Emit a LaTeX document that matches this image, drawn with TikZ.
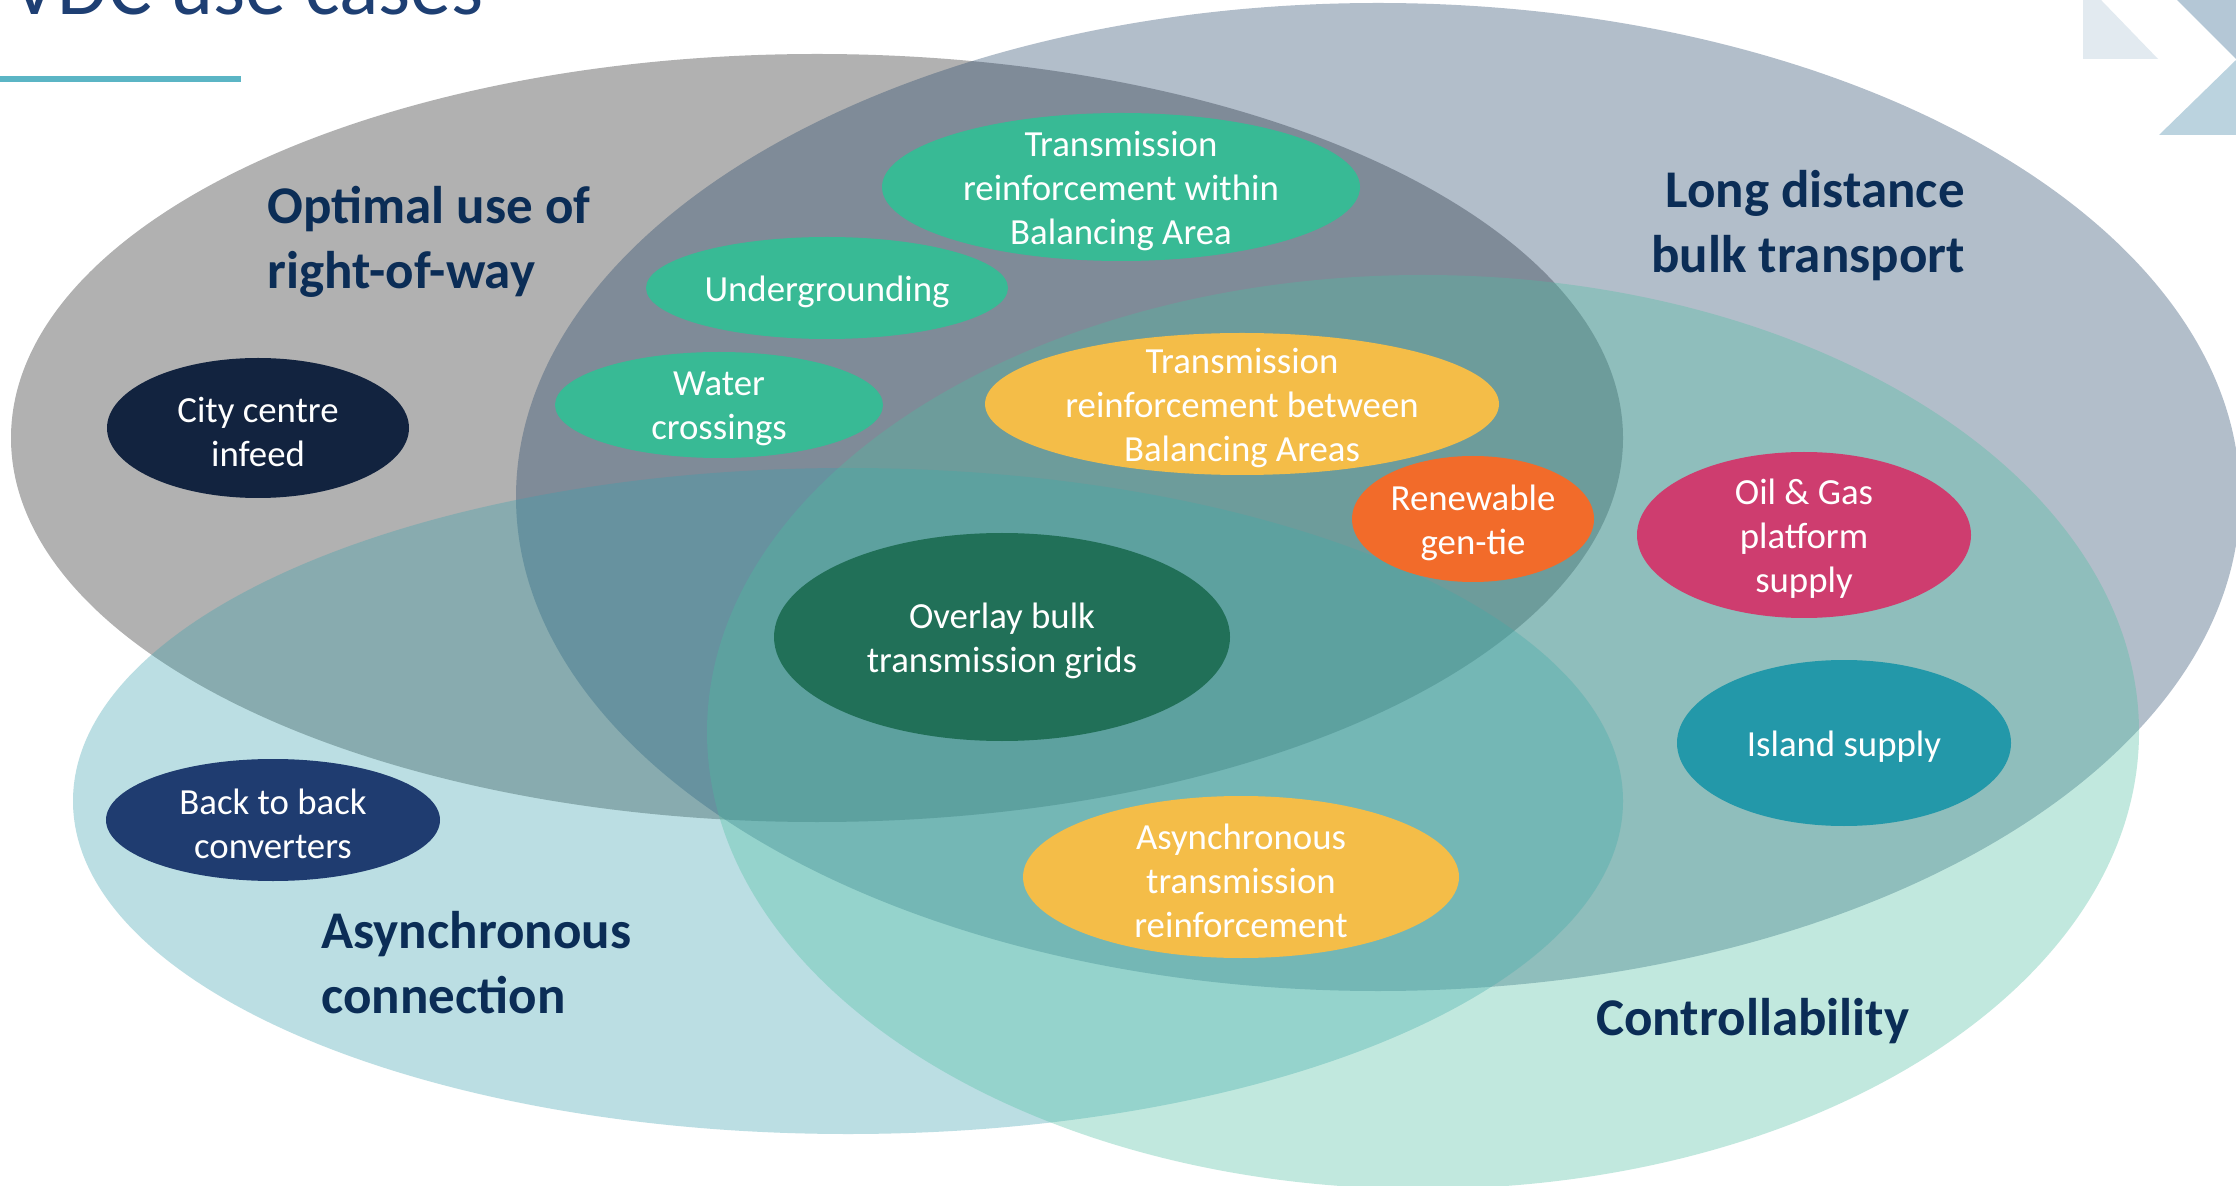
\documentclass[tikz,border=0pt]{standalone}
\usepackage{fontspec}
\setmainfont{Carlito}
\usetikzlibrary{shapes.geometric}
\definecolor{cGrayL}{RGB}{32,32,32}
\definecolor{cBlueL}{RGB}{35,69,106}
\definecolor{cLightL}{RGB}{58,161,173}
\definecolor{cMintL}{RGB}{76,190,161}
\definecolor{cGreen}{RGB}{56,186,149}
\definecolor{cYellow}{RGB}{244,189,72}
\definecolor{cOrange}{RGB}{242,107,42}
\definecolor{cNavyA}{RGB}{18,35,63}
\definecolor{cNavyB}{RGB}{31,60,112}
\definecolor{cPink}{RGB}{206,61,111}
\definecolor{cDkGreen}{RGB}{33,112,88}
\definecolor{cTeal}{RGB}{35,152,169}
\definecolor{cLabel}{RGB}{11,45,86}
\definecolor{cTitle}{RGB}{30,63,115}
\definecolor{cRule}{RGB}{91,181,197}
\definecolor{cDecoA}{RGB}{226,234,240}
\definecolor{cDecoB}{RGB}{180,199,214}
\definecolor{cDecoC}{RGB}{187,211,223}
\tikzset{
  bigset/.style={ellipse, draw=none, inner sep=0pt, fill opacity=0.35},
  usecase/.style={ellipse, draw=none, inner sep=0pt},
  uctext/.style={inner sep=0pt, text=white, align=center, yshift=-2pt,
    font=\fontsize{18.4}{22}\selectfont},
  setlabel/.style={inner sep=0pt, text=cLabel, font=\fontsize{26.5}{32.5}\selectfont\bfseries},
}
\begin{document}
\begin{tikzpicture}[x=0.5pt,y=-0.5pt]
\clip (0,0) rectangle (2236,1186);
\fill[white] (0,0) rectangle (2236,1186);
% title and rule
\node[anchor=base west, inner sep=0pt, text=cTitle, font=\fontsize{41}{48}\selectfont] (title) at (11,15) {VDC use cases};
\fill[cRule] (0,76) rectangle (241,82);
% decoration
\fill[cDecoA] (2083,0) -- (2101,0) -- (2158,59) -- (2083,59) -- cycle;
\fill[cDecoB] (2177,0) -- (2236,0) -- (2236,59) -- cycle;
\fill[cDecoC] (2236,60) -- (2236,135) -- (2159,135) -- cycle;
% big sets
\node[bigset, fill=cGrayL, minimum width=806pt, minimum height=384pt] (setrow) at (817,438) {};
\node[bigset, fill=cBlueL, minimum width=862pt, minimum height=494pt] (setlong) at (1378,497) {};
\node[bigset, fill=cLightL, fill opacity=0.34, minimum width=775pt, minimum height=333pt] (setasync) at (848,801) {};
\node[bigset, fill=cMintL, fill opacity=0.34, minimum width=716pt, minimum height=457pt] (setctrl) at (1423,732) {};
% set labels
\node[setlabel, anchor=west, align=left] (lrow) at (267,242) {Optimal use of\\right-of-way};
\node[setlabel, anchor=east, align=right] (llong) at (1965,226) {Long distance\\bulk transport};
\node[setlabel, anchor=west, align=left] (lasync) at (321,963) {Asynchronous\\connection};
\node[setlabel, anchor=west] (lctrl) at (1596,1021) {Controllability};
% use case ellipses
\node[usecase, fill=cGreen, minimum width=239pt, minimum height=74pt] (trwithin) at (1121,187) {};
\node[usecase, fill=cGreen, minimum width=181pt, minimum height=51pt] (underg) at (827,288) {};
\node[usecase, fill=cGreen, minimum width=164pt, minimum height=53pt] (water) at (719,405) {};
\node[usecase, fill=cYellow, minimum width=257pt, minimum height=71pt] (trbetween) at (1242,404) {};
\node[usecase, fill=cOrange, minimum width=121pt, minimum height=63pt] (gentie) at (1473,519) {};
\node[usecase, fill=cNavyA, minimum width=151pt, minimum height=70pt] (city) at (258,428) {};
\node[usecase, fill=cPink, minimum width=167pt, minimum height=83pt] (oilgas) at (1804,535) {};
\node[usecase, fill=cDkGreen, minimum width=228pt, minimum height=104pt] (overlay) at (1002,637) {};
\node[usecase, fill=cTeal, minimum width=167pt, minimum height=83pt] (island) at (1844,743) {};
\node[usecase, fill=cNavyB, minimum width=167pt, minimum height=61pt] (b2b) at (273,820) {};
\node[usecase, fill=cYellow, minimum width=218pt, minimum height=81pt] (asynctr) at (1241,877) {};
% use case texts
\node[uctext] (ttrwithin) at (trwithin.center) {Transmission\\reinforcement within\\Balancing Area};
\node[uctext] (tunderg) at (underg.center) {Undergrounding};
\node[uctext] (twater) at (water.center) {Water\\crossings};
\node[uctext] (ttrbetween) at (trbetween.center) {Transmission\\reinforcement between\\Balancing Areas};
\node[uctext] (tgentie) at (gentie.center) {Renewable\\gen-tie};
\node[uctext] (tcity) at (city.center) {City centre\\infeed};
\node[uctext] (toilgas) at (oilgas.center) {Oil \& Gas\\platform\\supply};
\node[uctext] (toverlay) at (overlay.center) {Overlay bulk\\transmission grids};
\node[uctext] (tisland) at (island.center) {Island supply};
\node[uctext] (tb2b) at (b2b.center) {Back to back\\converters};
\node[uctext] (tasynctr) at (asynctr.center) {Asynchronous\\transmission\\reinforcement};
\end{tikzpicture}
\end{document}
